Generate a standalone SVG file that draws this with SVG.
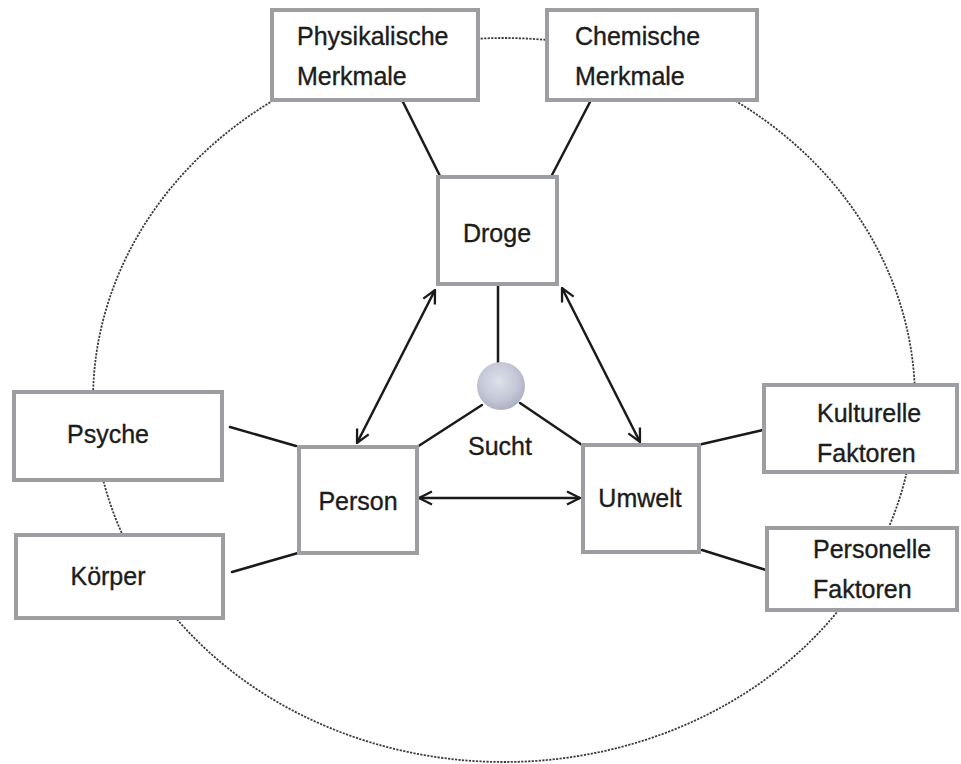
<svg xmlns="http://www.w3.org/2000/svg" width="961" height="764" viewBox="0 0 961 764">
  <defs>
    <style>
      .box { fill: #ffffff; stroke: #9c9ea2; stroke-width: 4; }
      .lbl { font-family: "Liberation Sans", Arial, sans-serif; font-size: 25px; fill: #1c1c1c; stroke: #1c1c1c; stroke-width: 0.35; }
      .mid { text-anchor: middle; }
      .ln { stroke: #1a1a1a; stroke-width: 2.5; fill: none; stroke-linecap: round; }
      .arr { stroke: #1a1a1a; stroke-width: 2.5; fill: none; marker-start: url(#chev); marker-end: url(#chev); }
      .ring { fill: none; stroke: #3c3c3c; stroke-width: 1.8; stroke-dasharray: 2.2 1.3; }
    </style>
    <marker id="chev" viewBox="0 0 16 16" refX="15" refY="8" markerWidth="16" markerHeight="16" markerUnits="userSpaceOnUse" orient="auto-start-reverse">
      <path d="M2,1.5 L15,8 L2,14.5" fill="none" stroke="#1a1a1a" stroke-width="2.3" stroke-linejoin="miter"/>
    </marker>
    <radialGradient id="ball" cx="0.45" cy="0.4" r="0.65">
      <stop offset="0" stop-color="#dde1ea"/>
      <stop offset="0.6" stop-color="#c4c7d6"/>
      <stop offset="1" stop-color="#a9abc0"/>
    </radialGradient>
  </defs>
  <rect x="0" y="0" width="961" height="764" fill="#ffffff"/>

  <ellipse id="ring" class="ring" cx="504" cy="400" rx="411" ry="362"/>

  <g id="connectors">
    <line class="ln" x1="403" y1="102" x2="440" y2="176"/>
    <line class="ln" x1="590" y1="102" x2="552" y2="175"/>
    <line class="ln" x1="498" y1="285" x2="498" y2="363"/>
    <line class="ln" x1="482" y1="405" x2="417" y2="447"/>
    <line class="ln" x1="520" y1="403" x2="582" y2="445"/>
    <line class="ln" x1="230" y1="427" x2="296" y2="446"/>
    <line class="ln" x1="232" y1="572" x2="298" y2="553"/>
    <line class="ln" x1="698" y1="445" x2="763" y2="430"/>
    <line class="ln" x1="702" y1="550" x2="766" y2="570"/>
    <line class="arr" x1="435" y1="290" x2="357" y2="443"/>
    <line class="arr" x1="562" y1="288" x2="640" y2="442"/>
    <line class="arr" x1="419" y1="498" x2="580" y2="498"/>
  </g>

  <g id="physikalische">
    <rect class="box" x="272" y="10" width="206" height="90"/>
    <text class="lbl" x="297" y="45">Physikalische</text>
    <text class="lbl" x="297" y="85">Merkmale</text>
  </g>
  <g id="chemische">
    <rect class="box" x="547" y="10" width="210" height="90"/>
    <text class="lbl" x="575" y="45">Chemische</text>
    <text class="lbl" x="575" y="85">Merkmale</text>
  </g>
  <g id="droge">
    <rect class="box" x="438" y="177" width="119" height="107"/>
    <text class="lbl mid" x="497" y="242">Droge</text>
  </g>
  <g id="sucht">
    <circle cx="501" cy="386" r="24" fill="url(#ball)"/>
    <text class="lbl mid" x="500" y="455">Sucht</text>
  </g>
  <g id="person">
    <rect class="box" x="299" y="447" width="118" height="106"/>
    <text class="lbl mid" x="358" y="510">Person</text>
  </g>
  <g id="umwelt">
    <rect class="box" x="583" y="445" width="116" height="107"/>
    <text class="lbl mid" x="640" y="507">Umwelt</text>
  </g>
  <g id="psyche">
    <rect class="box" x="14" y="392" width="208" height="88"/>
    <text class="lbl mid" x="108" y="443">Psyche</text>
  </g>
  <g id="koerper">
    <rect class="box" x="16" y="535" width="207" height="83"/>
    <text class="lbl mid" x="108" y="585">Körper</text>
  </g>
  <g id="kulturelle">
    <rect class="box" x="764" y="385" width="193" height="87"/>
    <text class="lbl" x="817" y="422">Kulturelle</text>
    <text class="lbl" x="817" y="462">Faktoren</text>
  </g>
  <g id="personelle">
    <rect class="box" x="767" y="528" width="190" height="82"/>
    <text class="lbl" x="813" y="558">Personelle</text>
    <text class="lbl" x="813" y="598">Faktoren</text>
  </g>
</svg>
